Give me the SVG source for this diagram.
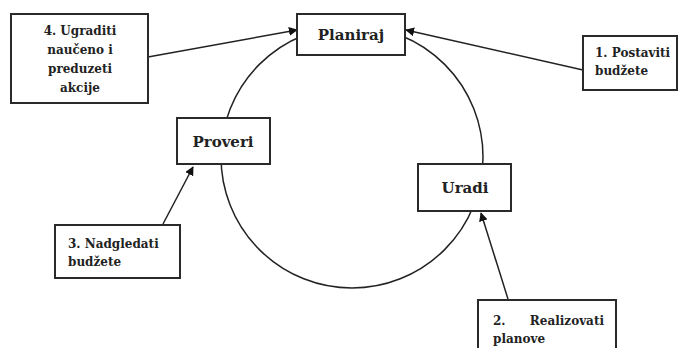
<svg xmlns="http://www.w3.org/2000/svg" width="684" height="348" viewBox="0 0 684 348">
<defs>
<style>
.box{fill:#fff;stroke:#2a2a2a;stroke-width:2}
.t{font-family:"DejaVu Serif","Liberation Serif",serif;font-weight:bold;font-size:12px;fill:#222}
.big{font-size:15px}
.c{stroke:#222;stroke-width:1.5;fill:none}
</style>
<marker id="ah" viewBox="0 0 10 10" refX="9" refY="5" markerWidth="9" markerHeight="9" markerUnits="userSpaceOnUse" orient="auto">
<path d="M0,0 L10,5 L0,10 z" fill="#111"/>
</marker>
</defs>
<rect width="684" height="348" fill="#fff"/>
<g id="connectors">
<circle class="c" cx="352" cy="157" r="131"/>
<line class="c" x1="148" y1="57" x2="297" y2="30" marker-end="url(#ah)"/>
<line class="c" x1="583" y1="70" x2="406" y2="30" marker-end="url(#ah)"/>
<line class="c" x1="163" y1="224" x2="193" y2="167" marker-end="url(#ah)"/>
<line class="c" x1="508" y1="299" x2="481" y2="213" marker-end="url(#ah)"/>
</g>
<g id="n4">
<rect class="box" x="11" y="14" width="137" height="89"/>
<text class="t" x="80" y="35" text-anchor="middle">4. Ugraditi</text>
<text class="t" x="80" y="54" text-anchor="middle">naučeno i</text>
<text class="t" x="80" y="73" text-anchor="middle">preduzeti</text>
<text class="t" x="80" y="92" text-anchor="middle">akcije</text>
</g>
<g id="planiraj">
<rect class="box" x="297" y="14" width="108" height="41"/>
<text class="t big" x="351" y="40" text-anchor="middle">Planiraj</text>
</g>
<g id="n1">
<rect class="box" x="583" y="36" width="94" height="54"/>
<text class="t" x="595" y="57">1.  Postaviti</text>
<text class="t" x="595" y="75">budžete</text>
</g>
<g id="proveri">
<rect class="box" x="177" y="118" width="93" height="46"/>
<text class="t big" x="223" y="147" text-anchor="middle">Proveri</text>
</g>
<g id="uradi">
<rect class="box" x="418" y="164" width="93" height="47"/>
<text class="t big" x="465" y="193" text-anchor="middle">Uradi</text>
</g>
<g id="n3">
<rect class="box" x="55" y="225" width="125" height="53"/>
<text class="t" x="68" y="248">3. Nadgledati</text>
<text class="t" x="68" y="266">budžete</text>
</g>
<g id="n2">
<rect class="box" x="478" y="300" width="138" height="52"/>
<text class="t" x="493" y="325">2.</text>
<text class="t" x="604" y="325" text-anchor="end">Realizovati</text>
<text class="t" x="493" y="343">planove</text>
</g>
</svg>
